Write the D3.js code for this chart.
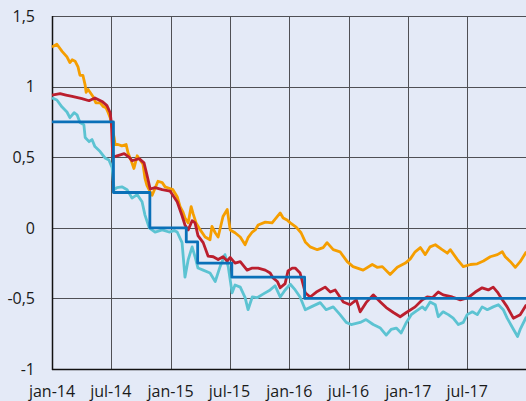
<!DOCTYPE html>
<html>
<head>
<meta charset="utf-8">
<script src="https://cdn.jsdelivr.net/npm/d3@7"></script>
<style>
  html, body { margin: 0; padding: 0; background: #e4eaf7; }
  svg { display: block; font-family: "Open Sans", "Noto Sans", sans-serif; }
</style>
</head>
<body>
<svg class="canvas" width="526" height="401"></svg>
<script>
// tick labels
const yTicks = [-1, -0.5, 0, 0.5, 1, 1.5];
const xTickDates = ["2014-01-01", "2014-07-01", "2015-01-01", "2015-07-01", "2016-01-01", "2016-07-01", "2017-01-01", "2017-07-01"];
const xTickLabels = ["jan-14", "jul-14", "jan-15", "jul-15", "jan-16", "jul-16", "jan-17", "jul-17"];

// policy rate (step)
const repoRate = [
  ["2014-01-01", 0.75], ["2014-07-09", 0.25], ["2014-10-29", 0], ["2015-02-18", -0.10],
  ["2015-03-25", -0.25], ["2015-07-08", -0.35], ["2016-02-17", -0.50], ["2017-12-31", -0.50]
];

const orangeSeries = [
  ["2014-01-01",1.28],["2014-01-16",1.30],["2014-02-01",1.25],["2014-02-16",1.21],["2014-02-25",1.17],["2014-03-04",1.19],
  ["2014-03-13",1.18],["2014-03-22",1.14],["2014-03-28",1.08],["2014-04-06",1.08],["2014-04-13",1.01],["2014-04-16",0.96],
  ["2014-04-22",0.98],["2014-04-28",0.96],["2014-05-07",0.93],["2014-05-16",0.885],["2014-05-29",0.885],["2014-06-07",0.86],
  ["2014-06-16",0.85],["2014-06-22",0.82],["2014-06-29",0.78],["2014-07-05",0.71],["2014-07-11",0.64],["2014-07-14",0.59],
  ["2014-07-23",0.59],["2014-08-04",0.58],["2014-08-17",0.59],["2014-08-23",0.53],["2014-09-01",0.48],["2014-09-10",0.42],
  ["2014-09-20",0.51],["2014-09-29",0.48],["2014-10-08",0.45],["2014-10-14",0.35],["2014-10-20",0.30],["2014-10-30",0.255],
  ["2014-11-05",0.23],["2014-11-14",0.28],["2014-11-23",0.33],["2014-12-06",0.32],["2014-12-15",0.29],["2014-12-27",0.28],
  ["2015-01-08",0.27],["2015-01-21",0.22],["2015-01-30",0.15],["2015-02-08",0.11],["2015-02-14",0.07],["2015-02-24",0.035],
  ["2015-03-05",0.15],["2015-03-11",0.10],["2015-03-20",0.035],["2015-04-02",-0.015],["2015-04-17",-0.065],["2015-05-02",-0.085],
  ["2015-05-08",0.01],["2015-05-18",-0.035],["2015-05-27",-0.065],["2015-06-11",0.08],["2015-06-24",0.13],["2015-07-03",-0.015],
  ["2015-07-18",-0.035],["2015-08-03",-0.065],["2015-08-18",-0.12],["2015-08-27",-0.07],["2015-09-09",-0.03],["2015-09-18",-0.015],
  ["2015-09-27",0.02],["2015-10-19",0.04],["2015-11-09",0.035],["2015-12-04",0.105],["2015-12-13",0.07],["2015-12-25",0.055],
  ["2016-01-04",0.035],["2016-01-22",0.005],["2016-02-06",-0.035],["2016-02-19",-0.10],["2016-03-05",-0.135],["2016-03-27",-0.155],
  ["2016-04-14",-0.14],["2016-04-26",-0.105],["2016-05-15",-0.155],["2016-06-05",-0.17],["2016-06-27",-0.24],["2016-07-15",-0.275],
  ["2016-08-15",-0.30],["2016-09-12",-0.26],["2016-09-27",-0.28],["2016-10-13",-0.275],["2016-11-06",-0.33],["2016-11-28",-0.28],
  ["2016-12-23",-0.25],["2017-01-07",-0.22],["2017-01-22",-0.17],["2017-02-07",-0.14],["2017-02-22",-0.19],["2017-03-09",-0.135],
  ["2017-03-25",-0.12],["2017-04-15",-0.155],["2017-05-01",-0.18],["2017-05-10",-0.155],["2017-06-01",-0.225],["2017-06-19",-0.275],
  ["2017-07-11",-0.26],["2017-08-01",-0.255],["2017-08-20",-0.235],["2017-09-10",-0.205],["2017-10-02",-0.19],["2017-10-17",-0.17],
  ["2017-10-26",-0.205],["2017-11-11",-0.24],["2017-11-26",-0.28],["2017-12-11",-0.24],["2017-12-30",-0.17]
];

const redSeries = [
  ["2014-01-01",0.94],["2014-01-26",0.95],["2014-02-13",0.94],["2014-03-04",0.93],["2014-04-03",0.915],["2014-04-25",0.90],
  ["2014-05-13",0.92],["2014-06-04",0.895],["2014-06-19",0.865],["2014-06-29",0.815],["2014-07-03",0.73],["2014-07-06",0.55],
  ["2014-07-08",0.50],["2014-07-20",0.51],["2014-08-11",0.525],["2014-08-26",0.50],["2014-09-04",0.475],["2014-09-26",0.49],
  ["2014-10-11",0.46],["2014-10-20",0.375],["2014-10-30",0.275],["2014-11-14",0.285],["2014-12-06",0.27],["2014-12-30",0.26],
  ["2015-01-21",0.185],["2015-02-05",0.085],["2015-02-14",0.02],["2015-02-24",-0.015],["2015-03-08",0.05],["2015-03-17",0.035],
  ["2015-03-26",-0.055],["2015-04-11",-0.105],["2015-04-26",-0.20],["2015-05-12",-0.205],["2015-05-27",-0.225],["2015-06-11",-0.205],
  ["2015-06-24",-0.235],["2015-07-03",-0.21],["2015-07-18",-0.25],["2015-08-03",-0.24],["2015-08-24",-0.30],["2015-09-09",-0.285],
  ["2015-09-27",-0.285],["2015-10-19",-0.30],["2015-11-03",-0.32],["2015-11-12",-0.355],["2015-11-25",-0.38],["2015-12-04",-0.425],
  ["2015-12-19",-0.395],["2015-12-28",-0.305],["2016-01-10",-0.285],["2016-01-19",-0.285],["2016-02-03",-0.32],["2016-02-19",-0.46],
  ["2016-03-05",-0.49],["2016-03-24",-0.455],["2016-04-20",-0.42],["2016-05-06",-0.455],["2016-05-21",-0.44],["2016-06-15",-0.525],
  ["2016-07-06",-0.545],["2016-07-25",-0.51],["2016-08-06",-0.595],["2016-08-24",-0.53],["2016-09-15",-0.475],["2016-10-07",-0.525],
  ["2016-10-25",-0.565],["2016-11-16",-0.60],["2016-12-07",-0.63],["2016-12-26",-0.60],["2017-01-22",-0.56],["2017-02-13",-0.51],
  ["2017-02-28",-0.49],["2017-03-16",-0.495],["2017-04-03",-0.455],["2017-04-18",-0.475],["2017-05-16",-0.49],["2017-06-10",-0.51],
  ["2017-07-04",-0.495],["2017-07-26",-0.455],["2017-08-16",-0.425],["2017-09-04",-0.44],["2017-09-19",-0.42],["2017-10-02",-0.455],
  ["2017-10-17",-0.51],["2017-11-01",-0.56],["2017-11-20",-0.64],["2017-12-11",-0.615],["2017-12-30",-0.545]
];

const cyanSeries = [
  ["2014-01-01",0.92],["2014-01-16",0.905],["2014-02-01",0.855],["2014-02-16",0.82],["2014-02-25",0.78],["2014-03-10",0.815],
  ["2014-03-19",0.80],["2014-03-28",0.745],["2014-04-09",0.73],["2014-04-13",0.64],["2014-04-25",0.61],["2014-05-04",0.625],
  ["2014-05-13",0.575],["2014-05-29",0.54],["2014-06-13",0.495],["2014-06-25",0.48],["2014-07-05",0.425],["2014-07-11",0.27],
  ["2014-07-20",0.285],["2014-08-04",0.29],["2014-08-20",0.27],["2014-09-04",0.21],["2014-09-20",0.235],["2014-10-05",0.185],
  ["2014-10-14",0.09],["2014-10-27",0.0],["2014-11-14",-0.03],["2014-12-06",-0.015],["2014-12-27",-0.03],["2015-01-12",-0.02],
  ["2015-01-21",-0.03],["2015-02-05",-0.105],["2015-02-14",-0.35],["2015-02-24",-0.225],["2015-03-08",-0.135],["2015-03-17",-0.205],
  ["2015-03-26",-0.285],["2015-04-11",-0.30],["2015-05-02",-0.32],["2015-05-18",-0.38],["2015-06-02",-0.275],["2015-06-17",-0.19],
  ["2015-06-27",-0.275],["2015-07-09",-0.46],["2015-07-18",-0.405],["2015-08-03",-0.42],["2015-08-18",-0.495],["2015-08-27",-0.58],
  ["2015-09-09",-0.49],["2015-09-24",-0.495],["2015-10-12",-0.47],["2015-11-03",-0.44],["2015-11-18",-0.41],["2015-12-04",-0.49],
  ["2015-12-19",-0.44],["2016-01-04",-0.40],["2016-01-19",-0.44],["2016-02-03",-0.49],["2016-02-19",-0.58],["2016-03-08",-0.56],
  ["2016-04-05",-0.53],["2016-04-23",-0.58],["2016-05-15",-0.56],["2016-06-05",-0.615],["2016-06-24",-0.67],["2016-07-09",-0.685],
  ["2016-08-06",-0.67],["2016-08-24",-0.65],["2016-09-15",-0.685],["2016-10-07",-0.71],["2016-10-25",-0.76],["2016-11-09",-0.72],
  ["2016-11-25",-0.71],["2016-12-10",-0.745],["2016-12-26",-0.67],["2017-01-10",-0.615],["2017-01-25",-0.59],["2017-02-13",-0.56],
  ["2017-02-22",-0.58],["2017-03-09",-0.525],["2017-03-25",-0.545],["2017-04-03",-0.63],["2017-04-18",-0.595],["2017-05-04",-0.615],
  ["2017-05-19",-0.64],["2017-06-04",-0.685],["2017-06-19",-0.67],["2017-07-01",-0.615],["2017-07-17",-0.595],["2017-08-01",-0.615],
  ["2017-08-16",-0.56],["2017-09-01",-0.58],["2017-09-19",-0.56],["2017-10-05",-0.545],["2017-10-20",-0.58],["2017-11-01",-0.64],
  ["2017-11-18",-0.71],["2017-12-03",-0.77],["2017-12-11",-0.72],["2017-12-30",-0.63]
];

const parse = d3.timeParse("%Y-%m-%d");
const svg = d3.select(".canvas");

const plotLeft = 52, plotRight = 527, plotTop = 16, plotBottom = 369;

const x = d3.scaleTime()
  .domain([parse("2014-01-01"), parse("2018-01-01")])
  .range([plotLeft, plotRight]);

const y = d3.scaleLinear()
  .domain([-1, 1.5])
  .range([plotBottom, plotTop]);

const fmt = d3.formatLocale({ decimal: ",", thousands: " ", grouping: [3], currency: ["", " kr"], minus: "-" }).format("~g");

// horizontal grid
svg.append("g")
  .selectAll("line")
  .data(yTicks.filter(d => d !== -1))
  .enter()
  .append("line")
  .attr("x1", plotLeft)
  .attr("x2", 526)
  .attr("y1", d => Math.round(y(d)) + 0.5)
  .attr("y2", d => Math.round(y(d)) + 0.5)
  .style("stroke", "#4f5055")
  .style("stroke-width", 1);

// vertical grid
svg.append("g")
  .selectAll("line")
  .data(xTickDates.slice(1))
  .enter()
  .append("line")
  .attr("x1", d => Math.round(x(parse(d))) + 0.5)
  .attr("x2", d => Math.round(x(parse(d))) + 0.5)
  .attr("y1", plotTop)
  .attr("y2", plotBottom)
  .style("stroke", "#4f5055")
  .style("stroke-width", 1);

// axis lines
svg.append("line")
  .attr("x1", plotLeft + 0.5).attr("x2", plotLeft + 0.5)
  .attr("y1", plotTop).attr("y2", plotBottom + 1)
  .style("stroke", "#111").style("stroke-width", 1.5);
svg.append("line")
  .attr("x1", plotLeft).attr("x2", 526)
  .attr("y1", plotBottom + 0.5).attr("y2", plotBottom + 0.5)
  .style("stroke", "#111").style("stroke-width", 1.5);

// y labels
svg.append("g")
  .selectAll("text")
  .data(yTicks)
  .enter()
  .append("text")
  .attr("x", 35)
  .attr("y", d => y(d))
  .attr("dy", "0.36em")
  .attr("text-anchor", "end")
  .attr("fill", "#1a1a1a")
  .style("font-size", "16px")
  .text(d => fmt(d));

// x labels
svg.append("g")
  .selectAll("text")
  .data(xTickDates)
  .enter()
  .append("text")
  .attr("x", d => x(parse(d)))
  .attr("y", 397)
  .attr("text-anchor", "middle")
  .attr("fill", "#1a1a1a")
  .style("font-size", "16px")
  .text((d, i) => xTickLabels[i]);

const line = d3.line()
  .x(d => x(parse(d[0])))
  .y(d => y(d[1]));

const stepLine = d3.line()
  .x(d => x(parse(d[0])))
  .y(d => y(d[1]))
  .curve(d3.curveStepAfter);

const series = [
  { data: cyanSeries, color: "#5cc3d2", gen: line },
  { data: orangeSeries, color: "#f59e00", gen: line },
  { data: redSeries, color: "#bb1f2e", gen: line },
  { data: repoRate, color: "#0a70b8", gen: stepLine }
];

svg.append("g")
  .selectAll("path")
  .data(series)
  .enter()
  .append("path")
  .attr("d", d => d.gen(d.data))
  .attr("fill", "none")
  .style("stroke", d => d.color)
  .style("stroke-width", 2.8)
  .style("stroke-linejoin", "round");
</script>
</body>
</html>
